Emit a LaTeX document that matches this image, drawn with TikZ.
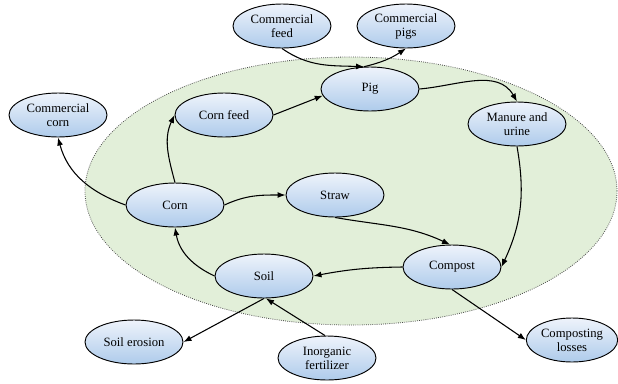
\documentclass[tikz,border=0pt]{standalone}
\usepackage{fontspec}
\setmainfont{Liberation Serif}
\usetikzlibrary{shapes.geometric,arrows.meta}
\definecolor{pooltop}{HTML}{EEF3FB}
\definecolor{poolbot}{HTML}{AECBEB}
\definecolor{farmgreen}{HTML}{E2EFD9}

\begin{document}
\begin{tikzpicture}[x=0.75pt, y=0.75pt,
  pool/.style={ellipse, draw, line width=0.7pt, top color=pooltop, bottom color=poolbot,
    minimum width=73.5pt, minimum height=33pt, inner sep=1pt, align=center,
    font=\fontsize{9.5}{10.5}\selectfont},
  flow/.style={-{Latex[length=6pt,width=4.5pt]}, line width=0.8pt}]
\useasboundingbox (0,0) rectangle (618,-383);
\draw[densely dotted, line width=0.6pt, gray!60!black, fill=farmgreen] (351,-191) ellipse (266 and 134);

\node[pool] (cfeed) at (282,-26) {Commercial\\feed};
\node[pool] (cpigs) at (406,-26) {Commercial\\pigs};
\node[pool] (pig) at (370,-89) {Pig};
\node[pool] (manure) at (517,-124) {Manure and\\urine};
\node[pool] (cornfeed) at (224,-115) {Corn feed};
\node[pool] (ccorn) at (58,-115) {Commercial\\corn};
\node[pool] (corn) at (175,-205) {Corn};
\node[pool] (straw) at (335,-195) {Straw};
\node[pool] (soil) at (264,-276) {Soil};
\node[pool] (compost) at (452,-267) {Compost};
\node[pool] (erosion) at (134,-342) {Soil erosion};
\node[pool] (fert) at (327,-358) {Inorganic\\fertilizer};
\node[pool, minimum width=68pt] (losses) at (572,-340) {Composting\\losses};

\draw[flow] (cfeed.south) to[out=-35, in=178] (pig.105);
\draw[flow] (pig.105) to[bend right=10] (cpigs.south);
\draw[flow] (cornfeed.east) -- (pig.188);
\draw[flow] (pig.east) to[out=5, in=120] (manure.north);
\draw[flow] (manure.south) to[out=-80, in=65] (compost.east);
\draw[flow] (straw.south) to[out=-10, in=155] (compost.95);
\draw[flow] (compost.west) to[bend right=5] (soil.east);
\draw[flow] (soil.west) to[out=155, in=-80] (corn.south);
\draw[flow] (corn.north) to[out=105, in=-115] (cornfeed.west);
\draw[flow] (corn.east) to[out=25, in=180] (straw.west);
\draw[flow] (corn.west) to[out=160, in=-75] (ccorn.south);
\draw[flow] (soil.south) -- (erosion.east);
\draw[flow] (fert.95) -- (soil.-85);
\draw[flow] (compost.south) -- (losses.west);
\end{tikzpicture}
\end{document}
